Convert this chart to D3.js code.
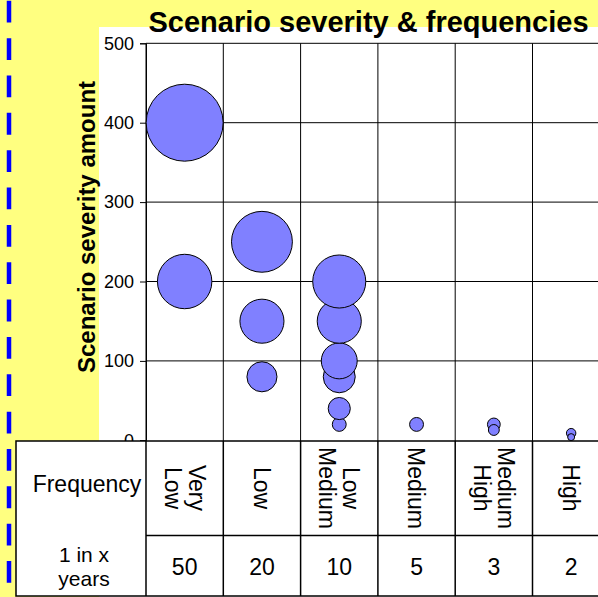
<!DOCTYPE html>
<html>
<head>
<meta charset="utf-8">
<script src="https://cdn.jsdelivr.net/npm/d3@7"></script>
<style>
  html, body { margin: 0; padding: 0; background: #ffff80; }
  svg { display: block; }
  text { font-family: "Liberation Sans", Arial, sans-serif; }
</style>
</head>
<body>
<svg id="chart" width="598" height="597"></svg>
<script>
// ---- data ----
const categories = ["Very Low", "Low", "Low Medium", "Medium", "Medium High", "High"];
const categoryLines = [["Very", "Low"], ["Low"], ["Low", "Medium"], ["Medium"], ["Medium", "High"], ["High"]];
const yearsOneIn = [50, 20, 10, 5, 3, 2];
const yTicks = [0, 100, 200, 300, 400, 500];

const bubbleCategory = ["Very Low", "Very Low", "Low", "Low", "Low",
  "Low Medium", "Low Medium", "Low Medium", "Low Medium", "Low Medium", "Low Medium",
  "Medium", "Medium High", "Medium High", "High", "High"];
const bubbleSeverity = [400, 200, 250, 150, 80, 20, 40, 80, 100, 150, 200, 20, 20, 13, 9, 4];
const bubbleSize = [400, 200, 250, 131, 61, 13, 33, 69, 87, 131, 190, 13, 11, 8, 6, 3.3];

const titleText = "Scenario severity & frequencies";
const yAxisTitle = "Scenario severity amount";
const rowHeader1 = "Frequency";
const rowHeader2 = ["1 in x", "years"];

// ---- layout ----
const W = 598, H = 597;
const svg = d3.select("#chart");
const plotLeft = 146, colW = 77.3;
const yTop = 43.3, yBottom = 440.3;
const tableTop = 441, rowDiv = 535.5, tableBottom = 596, tableLeft = 16;

const x = d3.scaleBand().domain(categories).range([plotLeft, plotLeft + colW * categories.length]).padding(0);
const y = d3.scaleLinear().domain([0, 500]).range([yBottom, yTop]);
const r = d3.scaleSqrt().domain([0, 400]).range([0, 38.5]);

// backgrounds
svg.append("rect").attr("x", 0).attr("y", 0).attr("width", W).attr("height", H).attr("fill", "#ffff80");
svg.append("rect").attr("x", 99).attr("y", 27).attr("width", W - 99).attr("height", H - 27).attr("fill", "#ffffff");

// blue dashed line
svg.append("line").attr("x1", 9).attr("x2", 9).attr("y1", 0.8).attr("y2", H)
  .attr("stroke", "#0000ff").attr("stroke-width", 4.5).attr("stroke-dasharray", "21.8,15.55");

// title
svg.append("text").attr("x", 368.5).attr("y", 31.5).attr("text-anchor", "middle")
  .attr("font-size", 29).attr("font-weight", "bold").attr("fill", "#000").text(titleText);

// gridlines
const grid = svg.append("g");
grid.selectAll("line.h").data(yTicks.filter(d => d > 0)).join("line")
  .attr("x1", plotLeft).attr("x2", W).attr("y1", d => y(d)).attr("y2", d => y(d))
  .attr("stroke", "#000").attr("stroke-width", 1);
grid.selectAll("line.v").data(categories).join("line")
  .attr("x1", d => x(d)).attr("x2", d => x(d)).attr("y1", yTop).attr("y2", tableTop)
  .attr("stroke", "#000").attr("stroke-width", 1);

// y axis
const yAxis = d3.axisLeft(y).tickValues(yTicks).tickSize(6).tickPadding(6).tickFormat(d3.format("d"));
const ga = svg.append("g").attr("transform", `translate(${plotLeft},0)`).call(yAxis);
ga.select(".domain").attr("stroke", "#000");
ga.selectAll(".tick line").attr("stroke", "#000");
ga.selectAll(".tick text").attr("font-size", 18).attr("fill", "#000")
  .attr("font-family", "'Liberation Sans', Arial, sans-serif");

// y axis title
svg.append("text").attr("transform", "translate(87,227) rotate(-90)")
  .attr("text-anchor", "middle").attr("dy", "0.35em")
  .attr("font-size", 24).attr("font-weight", "bold").attr("fill", "#000").text(yAxisTitle);

// bubbles
const bubbles = bubbleSeverity.map((v, i) => ({ cat: bubbleCategory[i], sev: v, size: bubbleSize[i] }));
svg.append("g").selectAll("circle").data(bubbles).join("circle")
  .attr("cx", d => x(d.cat) + x.bandwidth() / 2)
  .attr("cy", d => y(d.sev))
  .attr("r", d => r(d.size))
  .attr("fill", "#8080ff").attr("stroke", "#000").attr("stroke-width", 1);

// table
const tbl = svg.append("g");
tbl.append("rect").attr("x", tableLeft).attr("y", tableTop).attr("width", W - tableLeft + 10)
  .attr("height", tableBottom - tableTop).attr("fill", "#fff").attr("stroke", "#000").attr("stroke-width", 1.5);
tbl.append("line").attr("x1", plotLeft).attr("x2", W).attr("y1", rowDiv).attr("y2", rowDiv)
  .attr("stroke", "#000").attr("stroke-width", 1.5);
tbl.selectAll("line.c").data(categories).join("line")
  .attr("x1", d => x(d)).attr("x2", d => x(d)).attr("y1", tableTop).attr("y2", tableBottom)
  .attr("stroke", "#000").attr("stroke-width", 1.5);

tbl.append("text").attr("x", 87).attr("y", 492).attr("text-anchor", "middle")
  .attr("font-size", 23).attr("fill", "#000").text(rowHeader1);
const rh2 = tbl.append("text").attr("text-anchor", "middle").attr("font-size", 21).attr("fill", "#000");
rowHeader2.forEach((ln, j) => {
  rh2.append("tspan").attr("x", 84).attr("y", 562 + j * 24).text(ln);
});

// rotated frequency labels
const lh = 24;
categories.forEach((c, i) => {
  const lines = categoryLines[i];
  const t = tbl.append("text")
    .attr("transform", `translate(${x(c) + x.bandwidth() / 2},488) rotate(90)`)
    .attr("text-anchor", "middle").attr("font-size", 23).attr("fill", "#000");
  lines.forEach((ln, j) => {
    t.append("tspan").attr("x", 0)
      .attr("y", (j - (lines.length - 1) / 2) * lh + 0.35 * 23)
      .text(ln);
  });
});

// years values
tbl.selectAll("text.yr").data(categories).join("text")
  .attr("x", d => x(d) + x.bandwidth() / 2).attr("y", 575)
  .attr("text-anchor", "middle").attr("font-size", 23).attr("fill", "#000")
  .text((d, i) => yearsOneIn[i]);
</script>
</body>
</html>
